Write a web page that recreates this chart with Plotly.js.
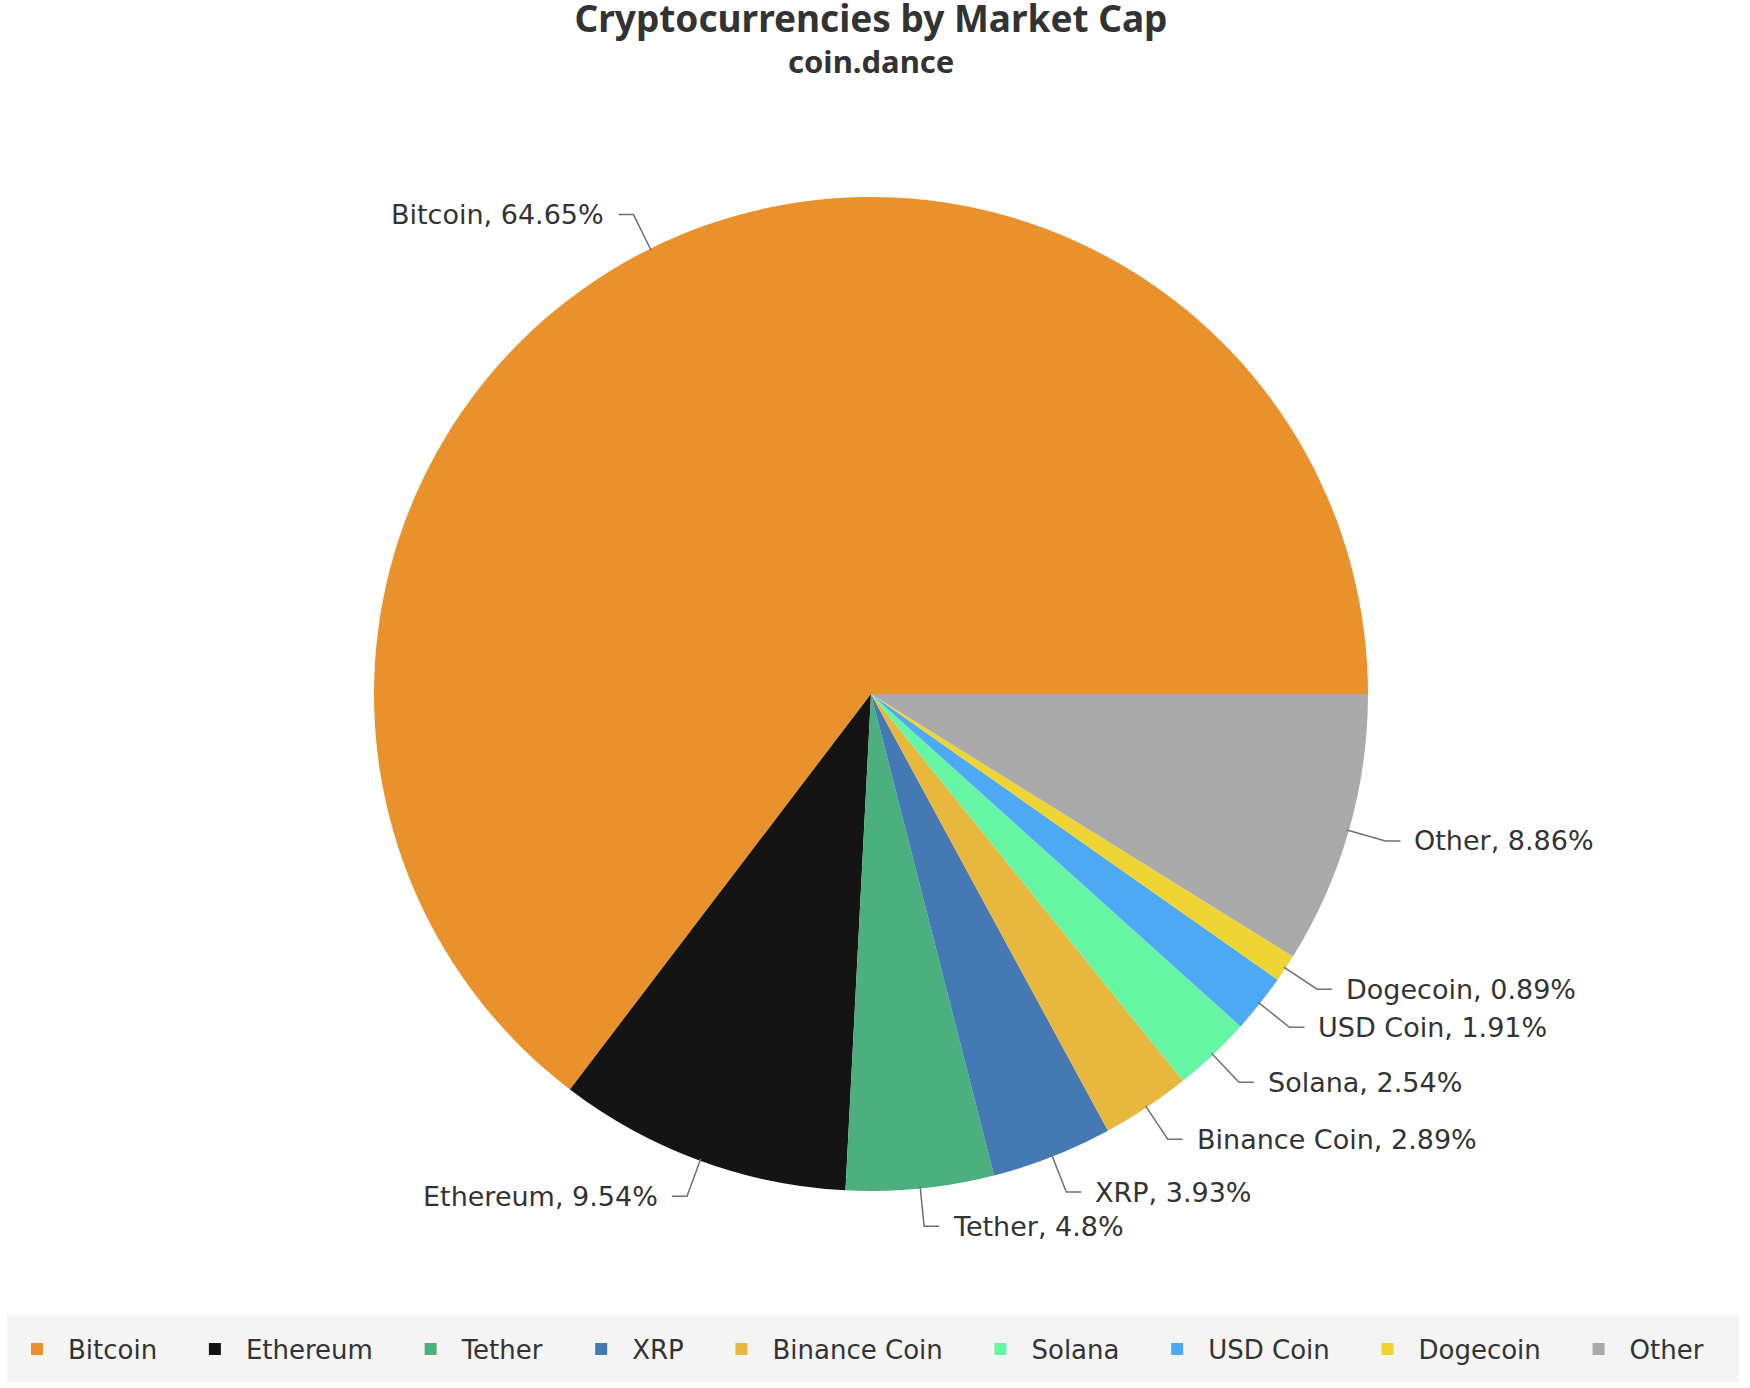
<!DOCTYPE html>
<html>
<head>
<meta charset="utf-8">
<script src="https://cdn.plot.ly/plotly-3.0.1.min.js"></script>
<style>
  html, body { margin: 0; padding: 0; background: #ffffff; }
  #chart { width: 1750px; height: 1388px; }
</style>
</head>
<body>
<div id="chart"></div>
<script>
// ---- data ----
const coins = ["Bitcoin", "Ethereum", "Tether", "XRP", "Binance Coin", "Solana", "USD Coin", "Dogecoin", "Other"];
const shares = [64.65, 9.54, 4.8, 3.93, 2.89, 2.54, 1.91, 0.89, 8.86];
const coinColors = ["#E8912D", "#141414", "#4CAF7E", "#4579B3", "#E8B83E", "#66F5A3", "#4EA9F5", "#EED534", "#AAAAAA"];
const chartTitle = "Cryptocurrencies by Market Cap";
const chartSubtitle = "coin.dance";

// ---- layout geometry ----
const W = 1750, H = 1388;
const M = { l: 0, r: 0, t: 197, b: 197, autoexpand: false };
const pw = W - M.l - M.r, ph = H - M.t - M.b;
const pieLeft = 374, pieSize = ph;                 // square pie domain in pixels
const domX = [(pieLeft - M.l) / pw, (pieLeft + pieSize - M.l) / pw];
const cx = pieLeft + pieSize / 2, cy = M.t + ph / 2;
const R = pieSize / 2;

const toPX = x => (x - M.l) / pw;
const toPY = y => (M.t + ph - y) / ph;

const total = shares.reduce((a, b) => a + b, 0);
// Plotly (counterclockwise) puts the boundary between slice 1 and 2 at `rotation`;
// we want slice 1 to start at 3 o'clock and run counter-clockwise.
const firstSweep = 360 * shares[0] / total;
const rot = 90 - firstSweep;

// leader lines + labels, positioned from each slice's mid-angle
const shapes = [];
const annotations = [];
let cum = 0;
shares.forEach((v, i) => {
  const mid = (cum + v / 2) / total;
  cum += v;
  const ang = mid * 2 * Math.PI;   // counter-clockwise from 3 o'clock
  const c = Math.cos(ang), s = Math.sin(ang);
  const p0 = [cx + c * (R - 2), cy - s * (R - 2)];
  const p1 = [cx + c * (R + 38), cy - s * (R + 38)];
  const dir = c >= 0 ? 1 : -1;
  const p2 = [p1[0] + dir * 15, p1[1]];
  shapes.push({
    type: "path", xref: "paper", yref: "paper",
    path: `M ${toPX(p0[0])} ${toPY(p0[1])} L ${toPX(p1[0])} ${toPY(p1[1])} L ${toPX(p2[0])} ${toPY(p2[1])}`,
    line: { color: "#707070", width: 1.5 }
  });
  annotations.push({
    xref: "paper", yref: "paper",
    x: toPX(p2[0] + dir * 12), y: toPY(p2[1]),
    xanchor: dir > 0 ? "left" : "right", yanchor: "middle",
    showarrow: false,
    text: `${coins[i]}, ${v}%`,
    font: { family: "DejaVu Sans, Verdana, sans-serif", size: 27, color: "#333333" }
  });
});

// subtitle
annotations.push({
  xref: "paper", yref: "paper",
  x: toPX(cx), y: toPY(61), xanchor: "center", yanchor: "middle",
  showarrow: false, text: chartSubtitle,
  font: { family: "Noto Sans, sans-serif", size: 31, color: "#333333", weight: "bold" }
});

// legend band
shapes.push({
  type: "rect", xref: "paper", yref: "paper", layer: "below",
  x0: toPX(7), x1: toPX(1739), y0: toPY(1315), y1: toPY(1382),
  fillcolor: "#F4F4F4", line: { width: 0 }
});

const data = [{
  type: "pie",
  labels: coins.map(c => c + "\u00A0\u00A0\u2009"),
  values: shares,
  sort: false,
  direction: "counterclockwise",
  rotation: rot,
  textinfo: "none",
  hoverinfo: "label+percent",
  marker: { colors: coinColors, line: { color: "#ffffff", width: 0 } },
  domain: { x: domX, y: [0, 1] }
}];

const layout = {
  width: W, height: H,
  margin: M,
  paper_bgcolor: "#ffffff",
  title: {
    text: chartTitle,
    x: toPX(cx), xref: "paper", xanchor: "center",
    y: 1 - 19 / H, yref: "container", yanchor: "middle",
    font: { family: "Noto Sans, sans-serif", size: 37, color: "#333333", weight: "bold" }
  },
  showlegend: true,
  legend: {
    orientation: "h",
    x: toPX(6), xanchor: "left",
    y: toPY(1349), yanchor: "middle",
    itemwidth: 52,
    bgcolor: "rgba(0,0,0,0)",
    font: { family: "DejaVu Sans, Verdana, sans-serif", size: 26, color: "#333333" }
  },
  shapes: shapes,
  annotations: annotations
};

Plotly.newPlot("chart", data, layout, { displayModeBar: false, staticPlot: true });
</script>
</body>
</html>
